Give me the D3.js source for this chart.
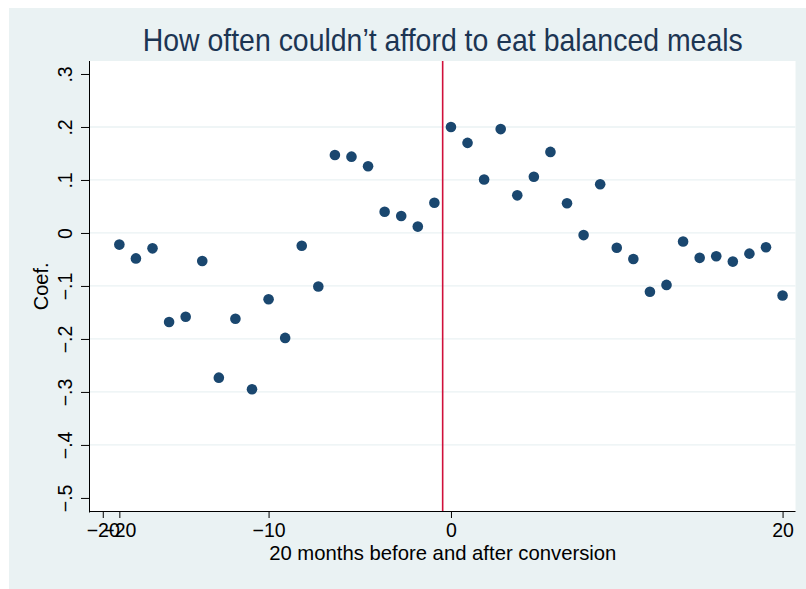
<!DOCTYPE html>
<html>
<head>
    <meta charset='utf-8'>
    <title>How often couldn't afford to eat balanced meals</title>
    <script src="https://cdnjs.cloudflare.com/ajax/libs/d3/7.8.5/d3.min.js"></script>
    <style>
        body { margin: 0; background: #fff; }
        svg { display: block; font-family: "Liberation Sans", Arial, sans-serif; }
    </style>
</head>
<body>
    <div id="chart"></div>
    <script>
// Event-study coefficients, one per month
const months = [-20, -19, -18, -17, -16, -15, -14, -13, -12, -11, -10, -9, -8, -7, -6, -5, -4, -3, -2, -1,
    0, 1, 2, 3, 4, 5, 6, 7, 8, 9, 10, 11, 12, 13, 14, 15, 16, 17, 18, 19, 20];
const coefs = [-0.022, -0.048, -0.029, -0.168, -0.158, -0.053, -0.273, -0.162, -0.295, -0.125,
    -0.198, -0.024, -0.101, 0.147, 0.144, 0.126, 0.040, 0.032, 0.012, 0.057,
    0.200, 0.170, 0.101, 0.196, 0.071, 0.106, 0.153, 0.056, -0.004, 0.092,
    -0.028, -0.049, -0.111, -0.098, -0.016, -0.047, -0.044, -0.054, -0.039, -0.027, -0.118];

// Axis ticks (the x labels are placed as in the original graph)
const xTickValues = [-21, -20, -11, 0, 20];
const xTickLabels = ["\u221220", "\u221220", "\u221210", "0", "20"];
const yTickValues = [-0.5, -0.4, -0.3, -0.2, -0.1, 0, 0.1, 0.2, 0.3];
const yTickLabels = ["\u2212.5", "\u2212.4", "\u2212.3", "\u2212.2", "\u2212.1", "0", ".1", ".2", ".3"];
const gridValues = [-0.4, -0.3, -0.2, -0.1, 0, 0.1, 0.2];
const conversionMonth = [-0.5];

// Setup dimensions
const width = 806;
const height = 589;
const plot = { left: 90, right: 795.5, top: 61, bottom: 511.7 };

const navy = "#1a476f";
const bg = "#eaf2f3";

const svg = d3.select("#chart")
    .append("svg")
    .attr("width", width)
    .attr("height", height);

// Graph region
svg.append("rect")
    .attr("x", 9)
    .attr("y", 8)
    .attr("width", width - 9)
    .attr("height", height - 8)
    .style("fill", bg);

svg.append("rect")
    .attr("x", plot.left)
    .attr("y", plot.top)
    .attr("width", plot.right - plot.left)
    .attr("height", plot.bottom - plot.top)
    .style("fill", "#fff");

// Scales
const x = d3.scaleLinear()
    .domain([-21.77, 20.78])
    .range([plot.left, plot.right]);

const y = d3.scaleLinear()
    .domain([-0.526, 0.3245])
    .range([plot.bottom, plot.top]);

// Grid lines
svg.append("g")
    .selectAll("line")
    .data(gridValues)
    .enter()
    .append("line")
    .attr("x1", plot.left)
    .attr("x2", plot.right)
    .attr("y1", d => y(d))
    .attr("y2", d => y(d))
    .style("stroke", bg)
    .style("stroke-width", 1.3);

// Conversion line
svg.append("g")
    .selectAll("line")
    .data(conversionMonth)
    .enter()
    .append("line")
    .attr("x1", d => x(d))
    .attr("x2", d => x(d))
    .attr("y1", plot.top)
    .attr("y2", plot.bottom)
    .style("stroke", "#d0103a")
    .style("stroke-width", 1.6);

// Points
svg.append("g")
    .selectAll("circle")
    .data(months)
    .enter()
    .append("circle")
    .attr("cx", d => x(d))
    .attr("cy", (d, i) => y(coefs[i]))
    .attr("r", 5.3)
    .style("fill", navy);

// X axis
const xAxis = svg.append("g")
    .attr("transform", "translate(0,511)")
    .call(d3.axisBottom(x)
        .tickValues(xTickValues)
        .tickFormat((d, i) => xTickLabels[i])
        .tickSize(7)
        .tickSizeOuter(0)
        .tickPadding(5.5));

xAxis.select(".domain")
    .attr("d", `M${plot.left},0.5H${plot.right}`);

// Y axis
const yAxis = svg.append("g")
    .attr("transform", "translate(89,0)")
    .call(d3.axisLeft(y)
        .tickValues(yTickValues)
        .tickFormat((d, i) => yTickLabels[i])
        .tickSize(8)
        .tickSizeOuter(0));

yAxis.select(".domain")
    .attr("d", `M0.5,${plot.top}V${plot.bottom + 0.8}`);

yAxis.selectAll(".tick text")
    .attr("x", 0)
    .attr("dy", 0)
    .attr("text-anchor", "middle")
    .attr("transform", "translate(-17,0) rotate(-90)");

svg.selectAll(".tick text")
    .style("font-size", "19.5px")
    .style("font-family", "'Liberation Sans', Arial, sans-serif")
    .style("fill", "#000");

svg.selectAll(".domain, .tick line")
    .style("stroke", "#000")
    .style("stroke-width", 1);

// Titles
svg.append("text")
    .attr("x", (plot.left + plot.right) / 2)
    .attr("y", 51)
    .attr("text-anchor", "middle")
    .attr("textLength", 600)
    .attr("lengthAdjust", "spacingAndGlyphs")
    .style("font-size", "30.5px")
    .style("fill", "#1c3553")
    .text("How often couldn\u2019t afford to eat balanced meals");

svg.append("text")
    .attr("x", (plot.left + plot.right) / 2)
    .attr("y", 560)
    .attr("text-anchor", "middle")
    .style("font-size", "20.3px")
    .style("fill", "#000")
    .text("20 months before and after conversion");

svg.append("text")
    .attr("transform", `translate(48,${(plot.top + plot.bottom) / 2}) rotate(-90)`)
    .attr("text-anchor", "middle")
    .style("font-size", "20px")
    .style("fill", "#000")
    .text("Coef.");
    </script>
</body>
</html>
